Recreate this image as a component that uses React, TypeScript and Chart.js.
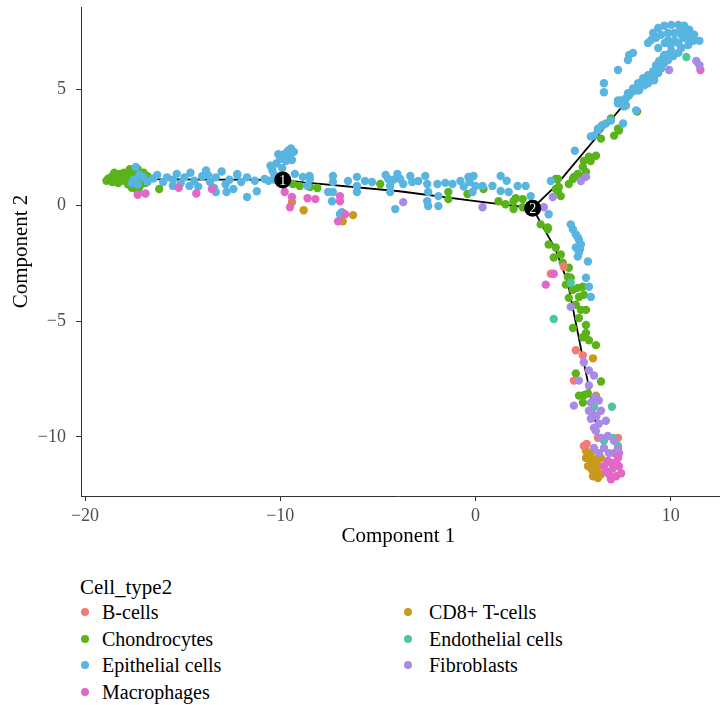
import React, { useEffect, useRef } from "react";
import { Chart, registerables } from "chart.js";

Chart.register(...registerables);

const FONT = '"Liberation Serif", "DejaVu Serif", serif';

const X_TICKS = [-20, -10, 0, 10];
const Y_TICKS = [-10, -5, 0, 5];
const X_TITLE = "Component 1";
const Y_TITLE = "Component 2";
const LEGEND_TITLE = "Cell_type2";

const CATEGORIES = [
  "B-cells",
  "CD8+ T-cells",
  "Chondrocytes",
  "Endothelial cells",
  "Epithelial cells",
  "Fibroblasts",
  "Macrophages",
];
const COLORS = ["#F27B74", "#C89A1A", "#5AB319", "#4CC89E", "#58B5E1", "#A78BE6", "#E267C6"];

const B_CELLS = [
  [3.86, -2.96], [4.52, -2.65], [5.14, -6.26], [5.5, -6.48], [5.04, -7.57],
  [6.27, -10.04], [5.55, -10.39], [7.3, -10.04], [5.7, -10.3],
];

const CD8 = [
  [-9.4, 0.13], [-8.8, -0.22], [-6.8, -0.7], [-6.27, -0.43], [6.02, -6.61], [6.17, -8.22],
  [5.66, -10.61], [5.81, -10.91], [5.91, -11.17], [6.07, -11.48], [6.27, -11.78], [6.32, -11.26],
  [6.17, -10.96], [6.43, -11.61], [5.76, -11.26], [6.02, -11.7], [6.43, -10.91], [5.66, -10.91],
  [5.9, -10.7], [6.15, -11.05], [6.2, -11.45], [5.95, -11.4],
];

const CHONDROCYTES = [
  [-18.8, 1.15], [-18.6, 1.25], [-18.6, 1.0], [-18.4, 1.3], [-18.4, 1.1], [-18.3, 0.95],
  [-18.2, 1.35], [-18.1, 1.2], [-18.0, 1.05], [-17.9, 1.3], [-17.8, 0.9], [-17.7, 1.2],
  [-17.6, 1.4], [-17.5, 1.0], [-17.4, 1.25], [-17.3, 1.55], [-17.2, 0.8], [-17.1, 1.1],
  [-17.0, 1.4], [-17.3, 0.6], [-16.9, 0.95], [-17.6, 0.75], [-18.0, 1.4], [-16.8, 1.25],
  [-16.2, 0.7], [-18.9, 1.05], [-18.5, 1.4], [-17.7, 1.55],
  [-9.35, 0.91], [-9.0, 0.83], [-8.1, 0.74], [-8.48, 0.78],
  [-4.88, 0.91], [-1.39, 0.57], [-1.39, 0.26], [-0.41, 0.48], [0.41, 0.7], [1.18, 0.17],
  [1.54, 0.04], [1.95, -0.17], [2.06, 0.3], [2.42, 0.26], [2.42, -0.09], [3.34, -0.83],
  [3.7, -0.96], [4.11, 1.13], [4.22, 0.61], [1.95, 0.17],
  [8.28, 4.04], [7.35, 3.22], [7.1, 3.0], [6.94, 3.74], [6.43, 2.87], [6.17, 2.13],
  [5.81, 2.09], [5.55, 1.91], [5.5, 1.65], [5.66, 1.43], [5.04, 1.22], [4.78, 0.91],
  [5.4, 1.22], [4.22, 1.13], [4.11, 0.7], [4.37, 0.39], [7.3, 3.3], [5.24, 1.35],
  [4.99, 1.13], [4.27, 0.78], [5.9, 1.9],
  [3.7, -1.04], [3.75, -1.7], [4.11, -1.83], [4.01, -2.26], [4.37, -2.13], [4.47, -2.48],
  [4.78, -2.7], [4.73, -3.09], [4.88, -3.13], [4.63, -3.43], [4.99, -3.65], [5.24, -3.57],
  [5.5, -3.52], [5.3, -3.96], [5.55, -3.87], [4.78, -4.0], [5.14, -4.3], [5.4, -4.52],
  [5.66, -4.52], [5.3, -4.87], [5.66, -5.17], [4.99, -5.3], [5.66, -5.52], [5.81, -5.83],
  [6.17, -6.04], [5.5, -5.7], [5.14, -7.26], [6.43, -7.61], [5.76, -8.13], [5.3, -8.22],
  [5.5, -8.52], [5.55, -8.2],
];

const ENDOTHELIAL = [
  [10.8, 6.39], [4.01, -4.91], [4.88, -3.35], [6.07, -8.7], [6.99, -8.7], [7.04, -10.04],
  [7.3, -10.39], [6.58, -10.17],
];

const EPITHELIAL = [
  [-17.5, 1.1], [-17.3, 0.9], [-17.0, 1.2], [-16.8, 1.0], [-16.5, 1.15], [-16.3, 1.3],
  [-16.0, 1.0], [-15.8, 1.2], [-15.5, 1.1], [-15.3, 1.35], [-15.1, 0.95], [-14.9, 1.2],
  [-14.6, 1.4], [-14.4, 1.05], [-14.2, 0.8], [-14.0, 1.25], [-13.8, 1.5], [-13.6, 1.0],
  [-13.4, 0.75], [-13.3, 1.2], [-13.0, 1.45], [-12.8, 0.9], [-12.6, 1.1], [-12.4, 0.7],
  [-12.2, 1.3], [-12.0, 1.0], [-11.7, 1.2], [-11.7, 0.35], [-11.2, 0.6], [-11.3, 1.05],
  [-10.8, 1.13], [-10.6, 1.05], [-10.3, 1.1], [-17.4, 1.65], [-17.6, 0.95], [-17.2, 1.3],
  [-13.7, 1.3], [-13.3, 0.57], [-12.75, 0.57], [-14.65, 0.83], [-15.5, 0.83], [-12.2, 1.35],
  [-10.4, 1.5], [-10.2, 1.8], [-10.0, 2.0], [-9.8, 2.2], [-9.6, 2.35], [-9.5, 2.1],
  [-10.3, 1.3], [-9.9, 1.6], [-9.7, 1.9], [-10.1, 2.2], [-9.45, 2.45], [-10.5, 1.7],
  [-9.3, 2.3], [-9.4, 1.95],
  [-9.25, 1.35], [-8.5, 1.26], [-7.55, 0.57], [-8.6, 0.83], [-8.84, 1.22], [-8.48, 1.13],
  [-7.3, 1.26], [-7.3, 1.0], [-7.3, 0.57], [-7.35, 0.17], [-6.84, -0.3], [-6.53, 1.04],
  [-6.07, 1.22], [-6.07, 0.83], [-6.07, 0.57], [-5.66, 1.04], [-5.3, 1.0], [-4.47, 1.13],
  [-4.37, 0.83], [-4.37, 0.57], [-4.0, 1.35], [-3.86, 1.13], [-3.7, 0.91], [-3.34, 1.26],
  [-3.24, 1.0], [-2.93, 1.04], [-2.57, 1.26], [-2.47, 0.91], [-2.42, 0.57], [-2.47, 0.17],
  [-2.42, -0.04], [-1.95, 0.91], [-1.9, 0.39], [-1.9, -0.04], [-1.54, 0.96], [-1.18, 0.91],
  [-4.11, -0.17], [-0.77, 1.04], [-0.36, 1.22], [-0.1, 1.26], [0.0, 0.83], [-0.15, 0.57],
  [0.36, 0.83], [0.87, 0.83], [1.29, 1.26], [1.29, 0.61], [1.7, 0.57], [2.16, 0.83],
  [2.57, 0.83], [2.83, 0.39], [3.75, -0.39], [3.86, 1.04], [-6.94, -0.39], [1.6, 1.05],
  [-4.6, 1.3], [-4.2, 1.1], [-0.3, 1.0], [-0.6, 0.8],
  [5.09, 2.35], [5.91, 2.96], [6.07, 3.0], [6.27, 3.22], [6.43, 3.39], [6.68, 3.52],
  [6.94, 3.65], [7.56, 3.52], [7.3, 4.39], [7.71, 4.3], [6.58, 4.87], [7.81, 4.83],
  [8.07, 4.91], [8.38, 4.96], [7.3, 4.52], [7.61, 4.26], [7.87, 4.74], [8.07, 5.04],
  [8.33, 5.26], [8.59, 5.48], [8.84, 5.61], [9.1, 5.78], [9.36, 6.0], [9.51, 6.22],
  [9.15, 5.39], [7.3, 5.83], [7.81, 6.26], [7.87, 6.48], [8.07, 6.57], [6.58, 5.26],
  [8.23, 4.09], [6.27, 3.3], [6.5, 3.45],
  [9.1, 7.43], [9.36, 7.65], [9.67, 7.74], [10.03, 7.78], [10.39, 7.78], [10.69, 7.74],
  [10.95, 7.57], [11.2, 7.35], [11.47, 7.09], [11.16, 7.09], [10.9, 6.91], [10.54, 7.35],
  [10.18, 7.43], [9.87, 7.43], [9.51, 7.35], [9.25, 7.22], [9.87, 7.13], [10.69, 7.22],
  [10.54, 6.78], [10.39, 6.57], [10.13, 6.43], [9.87, 6.26], [9.67, 6.13], [9.51, 5.91],
  [9.36, 5.7], [9.15, 5.57], [9.0, 5.39], [8.84, 5.26], [10.03, 6.65], [9.77, 6.48],
  [9.61, 6.35], [9.41, 6.22], [9.25, 6.04], [8.84, 7.0], [9.0, 7.13], [9.36, 6.78],
  [9.67, 6.48], [10.2, 7.1], [10.5, 7.55], [9.7, 7.0], [10.0, 6.9], [10.4, 7.0],
  [10.8, 7.45], [11.0, 7.2],
  [8.64, 5.17], [8.33, 4.96], [7.71, 4.61], [7.46, 4.52],
  [4.88, -0.83], [4.99, -1.04], [5.14, -1.26], [5.24, -1.39], [5.4, -1.7], [5.14, -1.83],
  [5.3, -2.04], [5.24, -2.22], [5.76, -2.43], [5.66, -3.13], [5.81, -3.52], [5.91, -3.96],
  [5.3, -1.5], [5.35, -1.9],
];

const FIBROBLASTS = [
  [-3.7, 0.13], [0.36, -0.09], [3.5, -0.09], [3.96, 0.35], [5.66, 1.22], [5.4, 1.04],
  [9.92, 5.83], [11.31, 6.22], [11.47, 6.04], [4.88, -4.39], [5.55, -6.78], [5.81, -7.13],
  [6.07, -7.35], [5.3, -7.57], [5.81, -7.78], [5.04, -8.65], [5.91, -8.52], [6.32, -8.43],
  [5.81, -8.87], [6.43, -8.87], [5.91, -9.22], [6.68, -9.3], [6.07, -9.61], [6.17, -9.74],
  [6.32, -9.43], [6.43, -10.04], [6.78, -9.96], [7.1, -10.17], [6.58, -10.48], [6.07, -10.48],
  [6.32, -10.7], [6.84, -10.7], [7.3, -10.52], [6.1, -8.3], [6.0, -9.0], [6.2, -9.1],
];

const MACROPHAGES = [
  [-17.3, 0.45], [-16.9, 0.5], [-15.2, 0.75], [-14.3, 0.5], [-13.5, 0.7], [-9.77, 0.57],
  [-9.4, 0.35], [-9.5, -0.09], [-8.6, 0.3], [-8.2, 0.26], [-6.94, 0.39], [-6.94, 0.17],
  [-7.04, -0.7], [-6.68, -0.39], [3.6, -3.43], [4.01, -2.96], [11.52, 5.83],
  [6.78, -11.04], [7.04, -11.35], [7.3, -10.91], [6.84, -11.61], [7.2, -11.7], [6.68, -11.48],
  [7.35, -11.26], [6.58, -11.26], [7.1, -10.7], [7.35, -10.7], [6.94, -11.83], [7.46, -11.57],
  [6.9, -11.1], [7.2, -11.1],
];

const SERIES = [B_CELLS, CD8, CHONDROCYTES, ENDOTHELIAL, EPITHELIAL, FIBROBLASTS, MACROPHAGES];
// lower value = drawn on top
const DRAW_ORDER = [4, 5, 7, 2, 6, 1, 3];

const PATH_BACKBONE = [[-17.6, 1.12], [-13, 1.1], [-9.87, 1.09], [-8.8, 0.98], [-3.9, 0.6], [0, 0.17], [2.93, -0.13]];
const PATH_UPPER = [[2.93, -0.13], [4.11, 0.83], [7.3, 4.04], [9.2, 5.95]];
const PATH_LOWER = [[2.93, -0.13], [3.3, -0.7], [4.1, -1.9], [4.73, -3.35], [5.24, -5.5], [5.5, -6.6], [5.8, -7.8], [6.3, -10.0]];

const NODE_X = [-9.87, 2.93];
const NODE_Y = [1.09, -0.13];
const NODE_LABELS = ["1", "2"];

const fmt = (v: number) => (v < 0 ? "\u2212" + Math.abs(v) : String(v));

const nodePlugin = {
  id: "trajNodes",
  afterDatasetsDraw(chart: any) {
    const { ctx, scales, chartArea } = chart;
    const x = scales.x;
    const y = scales.y;
    NODE_X.forEach((nx, i) => {
      const px = x.getPixelForValue(nx);
      const py = y.getPixelForValue(NODE_Y[i]);
      ctx.save();
      ctx.beginPath();
      ctx.arc(px, py, 8.5, 0, Math.PI * 2);
      ctx.fillStyle = "#000";
      ctx.fill();
      ctx.fillStyle = "#fff";
      ctx.font = `14px ${FONT}`;
      ctx.textAlign = "center";
      ctx.textBaseline = "middle";
      ctx.fillText(NODE_LABELS[i], px, py + 1);
      ctx.restore();
    });
    // extend the bottom axis line to the canvas edge, as in the panel
    ctx.save();
    ctx.strokeStyle = "#333";
    ctx.lineWidth = 1;
    ctx.beginPath();
    ctx.moveTo(chartArea.right - 1, chartArea.bottom + 0.5);
    ctx.lineTo(chart.width, chartArea.bottom + 0.5);
    ctx.stroke();
    ctx.restore();
  },
};

const LEGEND_ROWS = [
  [0, 1],
  [2, 3],
  [4, 5],
  [6, -1],
];

export default function App() {
  const canvasRef = useRef<HTMLCanvasElement | null>(null);

  useEffect(() => {
    document.body.style.margin = "0";
    const canvas = canvasRef.current;
    if (!canvas) return;

    const pathDs = [PATH_BACKBONE, PATH_UPPER, PATH_LOWER].map((p) => ({
      type: "scatter" as const,
      data: p.map(([x, y]) => ({ x, y })),
      showLine: true,
      borderColor: "#000",
      borderWidth: 1.8,
      pointRadius: 0,
      fill: false,
      order: 100,
    }));

    const pointDs = SERIES.map((s, i) => ({
      type: "scatter" as const,
      label: CATEGORIES[i],
      data: s.map(([x, y]) => ({ x, y })),
      backgroundColor: COLORS[i],
      borderWidth: 0,
      pointRadius: 4.2,
      pointHoverRadius: 4.2,
      order: DRAW_ORDER[i],
    }));

    const tickFont = { family: FONT, size: 18 };
    const titleFont = { family: FONT, size: 21 };

    const chart = new Chart(canvas, {
      type: "scatter",
      data: { datasets: [...pointDs, ...pathDs] as any },
      options: {
        responsive: false,
        animation: false,
        devicePixelRatio: 1,
        layout: { padding: { top: 7, right: 0, left: 0, bottom: 0 } },
        plugins: { legend: { display: false }, tooltip: { enabled: false } },
        scales: {
          x: {
            type: "linear",
            min: -20.205,
            max: 12.31,
            afterBuildTicks: (s: any) => {
              s.ticks = X_TICKS.map((v) => ({ value: v }));
            },
            afterFit: (s: any) => {
              s.height = 64;
              s.paddingLeft = 0;
              s.paddingRight = 0;
            },
            grid: { drawOnChartArea: false, drawTicks: true, tickLength: 5, color: "#333", lineWidth: 1 },
            border: { display: true, color: "#333", width: 1 },
            ticks: { color: "#4d4d4d", font: tickFont, padding: 4, callback: (v: any) => fmt(Number(v)) },
            title: { display: true, text: X_TITLE, color: "#000", font: titleFont, padding: { top: 0, bottom: 11 } },
          },
          y: {
            type: "linear",
            min: -12.55,
            max: 8.55,
            afterBuildTicks: (s: any) => {
              s.ticks = Y_TICKS.map((v) => ({ value: v }));
            },
            afterFit: (s: any) => {
              s.width = 81;
              s.paddingTop = 0;
              s.paddingBottom = 0;
            },
            grid: { drawOnChartArea: false, drawTicks: true, tickLength: 5, color: "#333", lineWidth: 1 },
            border: { display: true, color: "#333", width: 1 },
            ticks: { color: "#4d4d4d", font: tickFont, padding: 10, callback: (v: any) => fmt(Number(v)) },
            title: { display: true, text: Y_TITLE, color: "#000", font: titleFont, padding: { top: 9, bottom: 0 } },
          },
        },
      },
      plugins: [nodePlugin],
    });
    return () => chart.destroy();
  }, []);

  const rowTop = [612, 639, 665, 692];
  const colDot = [85, 408];
  const colText = [102, 429];

  return (
    <div style={{ position: "relative", width: 720, height: 705, background: "#fff", overflow: "hidden" }}>
      <canvas ref={canvasRef} width={720} height={560} style={{ position: "absolute", left: 0, top: 0, width: 720, height: 560 }} />
      <div
        style={{
          position: "absolute",
          left: 80,
          top: 587 - 12,
          height: 24,
          lineHeight: "24px",
          fontFamily: FONT,
          fontSize: 21,
          color: "#000",
          whiteSpace: "nowrap",
        }}
      >
        {LEGEND_TITLE}
      </div>
      {LEGEND_ROWS.map((row, r) =>
        row.map((ci, c) =>
          ci < 0 ? null : (
            <React.Fragment key={`${r}-${c}`}>
              <div
                style={{
                  position: "absolute",
                  left: colDot[c] - 4,
                  top: rowTop[r] - 4,
                  width: 8,
                  height: 8,
                  borderRadius: 4,
                  background: COLORS[ci],
                }}
              />
              <div
                style={{
                  position: "absolute",
                  left: colText[c],
                  top: rowTop[r] - 12,
                  height: 24,
                  lineHeight: "24px",
                  fontFamily: FONT,
                  fontSize: 20,
                  color: "#000",
                  whiteSpace: "nowrap",
                }}
              >
                {CATEGORIES[ci]}
              </div>
            </React.Fragment>
          )
        )
      )}
    </div>
  );
}
